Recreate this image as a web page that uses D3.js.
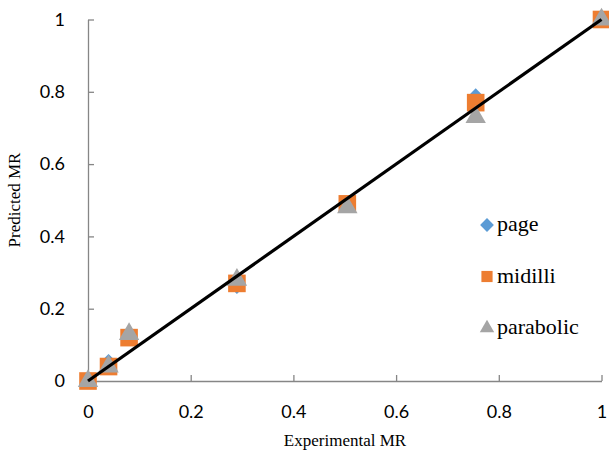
<!DOCTYPE html>
<html>
<head>
<meta charset="utf-8">
<script src="https://cdn.jsdelivr.net/npm/d3@7"></script>
<style>
  body { margin: 0; background: #fff; }
  svg { display: block; }
</style>
</head>
<body>
<svg id="chart" width="609" height="450"></svg>
<script>
// experimental moisture ratio and model predictions
const experimental = [0, 0.04, 0.08, 0.29, 0.505, 0.755, 1];
const page = [0, 0.055, 0.13, 0.26, 0.49, 0.79, 1];
const midilli = [0, 0.04, 0.12, 0.27, 0.49, 0.77, 1];
const parabolic = [0, 0.04, 0.13, 0.28, 0.48, 0.73, 1];
const ticks = [0, 0.2, 0.4, 0.6, 0.8, 1];

const serif = "'Liberation Serif', 'Times New Roman', serif";
const sans = "Lato, 'Open Sans', sans-serif";

const series = [
  { name: "page", values: page, color: "#5B9BD5", shape: d3.symbolSquare, rot: 45, size: 100, legSize: 95 },
  { name: "midilli", values: midilli, color: "#ED7D31", shape: d3.symbolSquare, rot: 0, size: 310, legSize: 125 },
  { name: "parabolic", values: parabolic, color: "#A5A5A5", shape: d3.symbolTriangle, rot: 0, size: 180, legSize: 90 }
];

const svg = d3.select("#chart");
const plotLeft = 88, plotRight = 601.5, plotTop = 19.5, plotBottom = 381;

const x = d3.scaleLinear().domain([0, 1]).range([plotLeft, plotRight]);
const y = d3.scaleLinear().domain([0, 1]).range([plotBottom, plotTop]);

const fmt = (d) => String(d);

const xAxis = svg.append("g")
  .attr("transform", `translate(0,${plotBottom})`)
  .call(d3.axisBottom(x).tickValues(ticks).tickFormat(fmt).tickSizeInner(-6).tickSizeOuter(0).tickPadding(24));
const yAxis = svg.append("g")
  .attr("transform", `translate(${plotLeft},0)`)
  .call(d3.axisLeft(y).tickValues(ticks).tickFormat(fmt).tickSizeInner(-6).tickSizeOuter(0).tickPadding(23));

[xAxis, yAxis].forEach((g) => {
  g.select(".domain").attr("stroke", "#868686").attr("stroke-width", 1.3);
  g.selectAll(".tick line").attr("stroke", "#868686").attr("stroke-width", 1.3);
  g.selectAll(".tick text")
    .attr("font-family", sans)
    .attr("font-size", 18)
    .attr("fill", "#000");
});

// markers
series.forEach((s) => {
  svg.append("g")
    .selectAll("path")
    .data(experimental.map((e, i) => [e, s.values[i]]))
    .join("path")
    .attr("transform", (d) => `translate(${x(d[0])},${y(d[1])}) rotate(${s.rot})`)
    .attr("d", d3.symbol().type(s.shape).size(s.size))
    .attr("fill", s.color);
});

// 1:1 line
svg.append("line")
  .attr("x1", x(0)).attr("y1", y(0))
  .attr("x2", x(1)).attr("y2", y(1))
  .attr("stroke", "#000")
  .attr("stroke-width", 3.2);

// legend
const legend = svg.append("g");
series.forEach((s, i) => {
  const ly = 225 + i * 51.5;
  legend.append("path")
    .attr("transform", `translate(487,${ly}) rotate(${s.rot})`)
    .attr("d", d3.symbol().type(s.shape).size(s.legSize))
    .attr("fill", s.color);
  legend.append("text")
    .attr("x", 497)
    .attr("y", ly + 6)
    .attr("font-family", serif)
    .attr("font-size", 22)
    .attr("fill", "#000")
    .text(s.name);
});

// axis titles
svg.append("text")
  .attr("x", 345).attr("y", 446)
  .attr("text-anchor", "middle")
  .attr("font-family", serif)
  .attr("font-size", 17)
  .text("Experimental MR");
svg.append("text")
  .attr("transform", "translate(20,200) rotate(-90)")
  .attr("text-anchor", "middle")
  .attr("font-family", serif)
  .attr("font-size", 17)
  .text("Predicted MR");
</script>
</body>
</html>
